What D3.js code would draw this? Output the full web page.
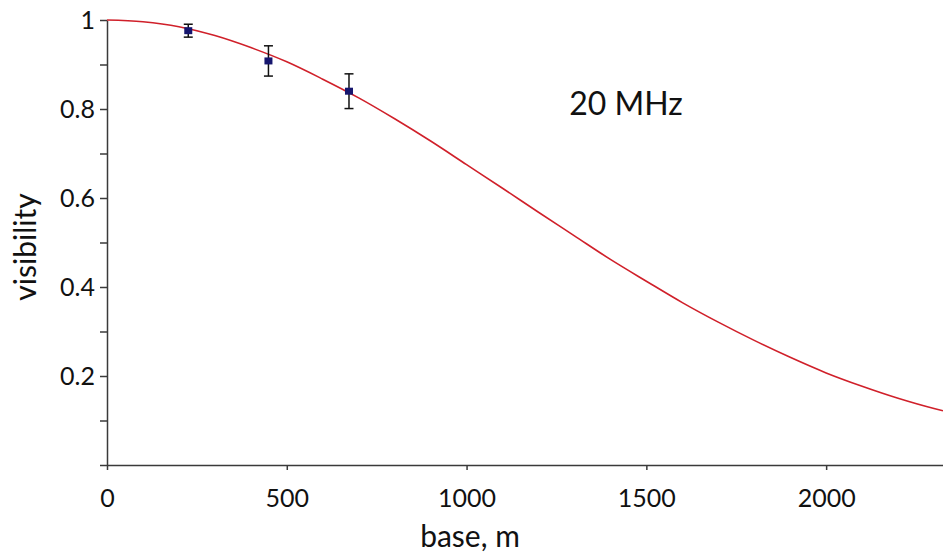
<!DOCTYPE html>
<html>
<head>
<meta charset="utf-8">
<script src="https://cdn.jsdelivr.net/npm/d3@7"></script>
<style>
  body { margin: 0; background: #fff; }
  svg { display: block; font-family: Lato, "Open Sans", sans-serif; }
</style>
</head>
<body>
<svg></svg>
<script>
// fitted curve
var baseM = [0, 100, 200, 300, 400, 500, 600, 700, 800, 900, 1000, 1100, 1200,
    1300, 1400, 1500, 1600, 1700, 1800, 1900, 2000, 2100, 2200, 2300, 2325];
var fitVisibility = [1.000, 0.996, 0.985, 0.965, 0.938, 0.906, 0.867, 0.825, 0.778,
    0.728, 0.675, 0.622, 0.568, 0.515, 0.462, 0.413, 0.365, 0.321, 0.280, 0.242,
    0.207, 0.177, 0.150, 0.127, 0.122];

// measured points with error bars
var obsBase = [226, 449, 673];
var obsVisibility = [0.976, 0.908, 0.840];
var obsError = [0.0145, 0.034, 0.039];

var xTicks = [0, 500, 1000, 1500, 2000];
var yTicks = [0.2, 0.4, 0.6, 0.8, 1];
var yMinorTicks = [0, 0.1, 0.3, 0.5, 0.7, 0.9];

function drawChart() {
    var svgWidth = 943, svgHeight = 553;
    var svg = d3.select('svg').attr("width", svgWidth).attr("height", svgHeight);

    var x = d3.scaleLinear().domain([0, 2325]).range([107, 943]);
    var y = d3.scaleLinear().domain([0, 1]).range([465, 20]);

    var curve = baseM.map(function(b, i) { return { b: b, v: fitVisibility[i] }; });
    var points = obsBase.map(function(b, i) {
        return { b: b, v: obsVisibility[i], e: obsError[i] };
    });

    // bottom axis
    var gx = svg.append("g")
        .attr("transform", "translate(0," + y(0) + ")")
        .call(d3.axisBottom(x).tickValues(xTicks).tickFormat(d3.format("d"))
            .tickSize(5).tickSizeOuter(0).tickPadding(19));

    // left axis, labelled ticks
    var gy = svg.append("g")
        .attr("transform", "translate(" + x(0) + ",0)")
        .call(d3.axisLeft(y).tickValues(yTicks).tickFormat(d3.format("~g"))
            .tickSize(7).tickSizeOuter(0).tickPadding(5));

    // minor ticks without labels
    var gm = svg.append("g")
        .attr("transform", "translate(" + x(0) + ",0)")
        .call(d3.axisLeft(y).tickValues(yMinorTicks).tickFormat("").tickSize(7));
    gm.select(".domain").remove();

    [gx, gy, gm].forEach(function(g) {
        g.selectAll("path, line").attr("stroke", "#3a3a3a").attr("stroke-width", 1.5);
        g.selectAll("text").attr("fill", "#111").style("font-size", "25px")
            .style("font-family", "Lato, 'Open Sans', sans-serif");
    });

    // fit curve
    var line = d3.line()
        .x(function(d) { return x(d.b); })
        .y(function(d) { return y(d.v); })
        .curve(d3.curveMonotoneX);
    svg.append("path")
        .datum(curve)
        .attr("fill", "none")
        .attr("stroke", "#d0202a")
        .attr("stroke-width", 1.6)
        .attr("d", line);

    // error bars
    var eb = svg.append("g").attr("stroke", "#111").attr("stroke-width", 1.5);
    eb.selectAll(".stem").data(points).enter().append("line")
        .attr("x1", function(d) { return x(d.b); })
        .attr("x2", function(d) { return x(d.b); })
        .attr("y1", function(d) { return y(d.v + d.e); })
        .attr("y2", function(d) { return y(d.v - d.e); });
    eb.selectAll(".capTop").data(points).enter().append("line")
        .attr("x1", function(d) { return x(d.b) - 4.5; })
        .attr("x2", function(d) { return x(d.b) + 4.5; })
        .attr("y1", function(d) { return y(d.v + d.e); })
        .attr("y2", function(d) { return y(d.v + d.e); });
    eb.selectAll(".capBottom").data(points).enter().append("line")
        .attr("x1", function(d) { return x(d.b) - 4.5; })
        .attr("x2", function(d) { return x(d.b) + 4.5; })
        .attr("y1", function(d) { return y(d.v - d.e); })
        .attr("y2", function(d) { return y(d.v - d.e); });

    // markers
    svg.selectAll(".pt").data(points).enter().append("rect")
        .attr("x", function(d) { return x(d.b) - 4; })
        .attr("y", function(d) { return y(d.v) - 3.5; })
        .attr("width", 8)
        .attr("height", 7)
        .attr("fill", "#16166e");

    // titles
    svg.append("text")
        .attr("x", 470).attr("y", 547)
        .attr("text-anchor", "middle")
        .attr("fill", "#111")
        .style("font-size", "30px")
        .text("base, m");

    svg.append("text")
        .attr("transform", "translate(36,247) rotate(-90)")
        .attr("text-anchor", "middle")
        .attr("fill", "#111")
        .style("font-size", "30px")
        .text("visibility");

    svg.append("text")
        .attr("x", 626).attr("y", 115)
        .attr("text-anchor", "middle")
        .attr("fill", "#111")
        .style("font-size", "32px")
        .text("20 MHz");
}

drawChart();
</script>
</body>
</html>
